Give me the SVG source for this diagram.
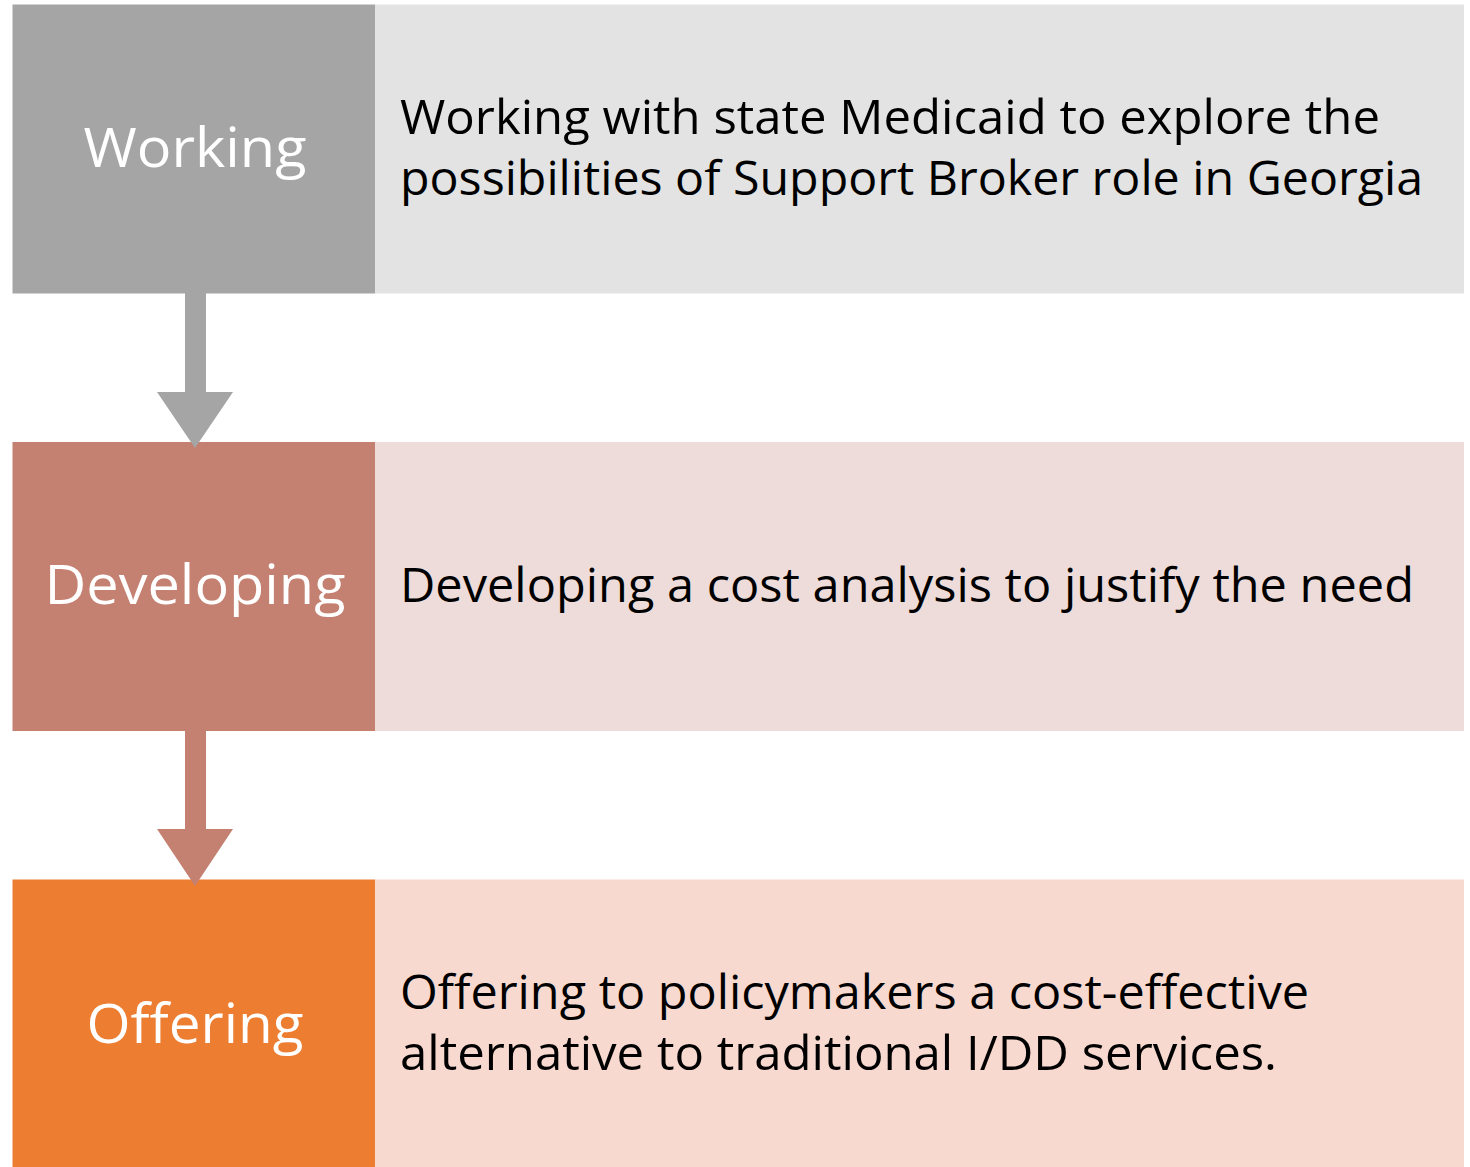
<svg xmlns="http://www.w3.org/2000/svg" width="1470" height="1167" viewBox="0 0 1470 1167">
  <style>
    .lbl { font-family: "Open Sans", "Liberation Sans", sans-serif; font-size: 54px; fill: #FFFFFF; text-anchor: middle; }
    .txt { font-family: "Open Sans", "Liberation Sans", sans-serif; font-size: 47px; fill: #000000; }
  </style>
  <rect width="1470" height="1167" fill="#FFFFFF"/>

  <!-- stage 1 -->
  <g id="working">
    <rect x="375" y="4.5" width="1089" height="289" fill="#E3E3E3"/>
    <rect x="12.5" y="4.5" width="362.5" height="289" fill="#A5A5A5"/>
    <text class="lbl" x="195" y="167" textLength="223" lengthAdjust="spacingAndGlyphs">Working</text>
    <text class="txt" x="400" y="134" textLength="980" lengthAdjust="spacingAndGlyphs">Working with state Medicaid to explore the</text>
    <text class="txt" x="400" y="195" textLength="1023" lengthAdjust="spacingAndGlyphs">possibilities of Support Broker role in Georgia</text>
  </g>

  <!-- stage 2 -->
  <g id="developing">
    <rect x="375" y="442" width="1089" height="289" fill="#EEDCDA"/>
    <rect x="12.5" y="442" width="362.5" height="289" fill="#C48071"/>
    <text class="lbl" x="195" y="604" textLength="301" lengthAdjust="spacingAndGlyphs">Developing</text>
    <text class="txt" x="400" y="602" textLength="1014" lengthAdjust="spacingAndGlyphs">Developing a cost analysis to justify the need</text>
  </g>

  <!-- stage 3 -->
  <g id="offering">
    <rect x="375" y="879.5" width="1089" height="290" fill="#F7D9D0"/>
    <rect x="12.5" y="879.5" width="362.5" height="290" fill="#ED7D31"/>
    <text class="lbl" x="195" y="1043" textLength="217" lengthAdjust="spacingAndGlyphs">Offering</text>
    <text class="txt" x="400" y="1009" textLength="909" lengthAdjust="spacingAndGlyphs">Offering to policymakers a cost-effective</text>
    <text class="txt" x="400" y="1070" textLength="877" lengthAdjust="spacingAndGlyphs">alternative to traditional I/DD services.</text>
  </g>

  <!-- connectors: block arrows between the stages, drawn over the boxes -->
  <g id="connectors">
    <polygon points="185,293 206,293 206,392 233,392 195,448 157,392 185,392" fill="#A5A5A5"/>
    <polygon points="185,731 206,731 206,829 233,829 195,886 157,829 185,829" fill="#C48071"/>
  </g>
</svg>
